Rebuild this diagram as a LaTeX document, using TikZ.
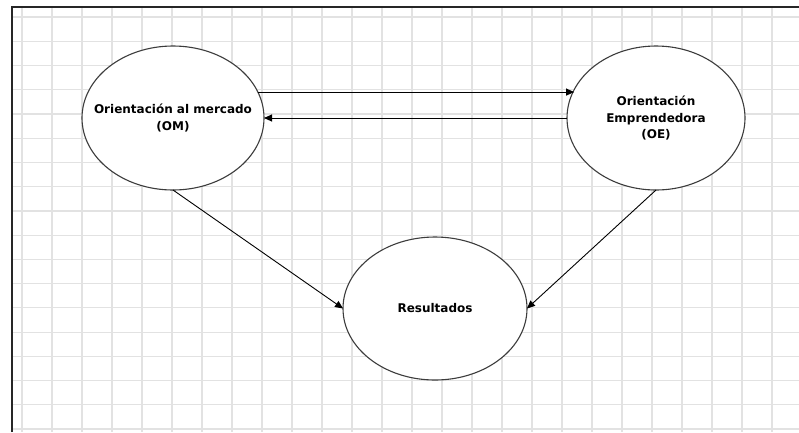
\documentclass[tikz,border=0pt]{standalone}
\usepackage{fontspec}
\setmainfont{DejaVu Sans}
\usetikzlibrary{shapes.geometric,arrows.meta}
\definecolor{gridgray}{HTML}{E2E2E2}
\definecolor{rimgray}{HTML}{3C3C3C}
\tikzset{
  concept/.style={ellipse, draw=rimgray, line width=1.1pt, fill=white,
    inner sep=0pt, outer sep=0pt},
  caption/.style={align=center, inner sep=0pt,
    font=\fontsize{12}{16.5}\selectfont\bfseries},
  link/.style={draw=black, line width=0.9pt,
    -{Triangle[length=8pt,width=7pt]}},
  gridline/.style={draw=gridgray, line width=1.2pt},
  frameline/.style={draw=black!85, line width=1.6pt}
}
\begin{document}
\begin{tikzpicture}[x=1pt,y=-1pt]
  \useasboundingbox (0,0) rectangle (799,432);
  \fill[white] (0,0) rectangle (799,432);
  % background grid
  \begin{scope}
    \clip (12,7) rectangle (799,432);
    \foreach \gx in {22,52,...,772} {\draw[gridline] (\gx,7) -- (\gx,432);}
    \foreach \k in {0,...,17} {\draw[gridline] (12,{17+24.24*\k}) -- (799,{17+24.24*\k});}
  \end{scope}
  % frame edges
  \draw[frameline] (12,432) -- (12,7) -- (799,7);
  % concepts (the outline is sized explicitly, the caption sits on top)
  \node[concept, minimum width=182pt, minimum height=144pt] (om) at (173,118) {};
  \node[caption] (omtext) at (om.center) {Orientación al mercado\\(OM)};
  \node[concept, minimum width=178pt, minimum height=144pt] (oe) at (656,118) {};
  \node[caption] (oetext) at (oe.center) {Orientación\\Emprendedora\\(OE)};
  \node[concept, minimum width=184pt, minimum height=143pt] (res) at (435,308.5) {};
  \node[caption] (restext) at (res.center) {Resultados};
  % relations
  \draw[link] (om.17.7) -- (om.17.7 -| oe.161.9);
  \draw[link] (oe.west) -- (om.east);
  \draw[link] (om.south) -- (res.west);
  \draw[link] (oe.south) -- (res.east);
\end{tikzpicture}
\end{document}
